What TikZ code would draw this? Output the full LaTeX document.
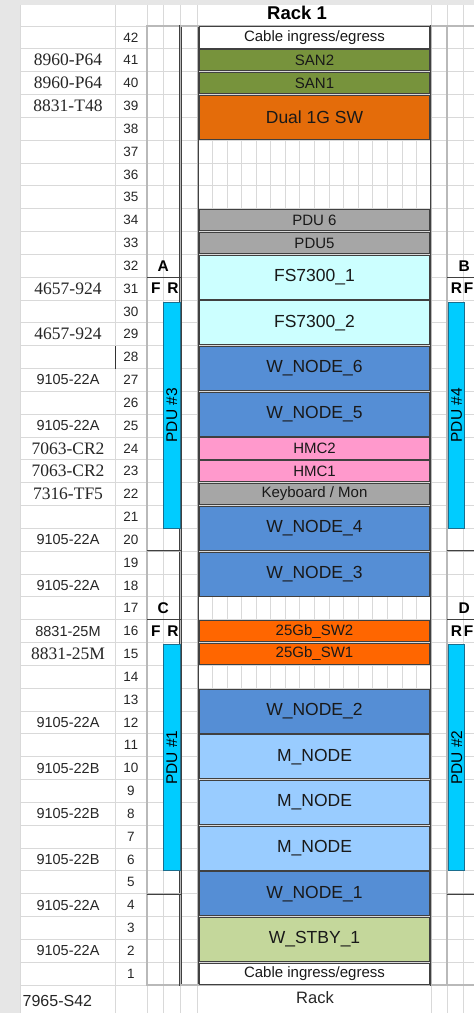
\documentclass[tikz,border=0pt]{standalone}
\usepackage{fontspec}
\setmainfont{Liberation Sans}
\newfontfamily\mtserif{Liberation Serif}
\usepackage{xcolor}
\usepackage{tikz}
\definecolor{sangreen}{HTML}{77933C}
\definecolor{swdark}{HTML}{E46C0A}
\definecolor{swbright}{HTML}{FF6600}
\definecolor{pdugray}{HTML}{A6A6A6}
\definecolor{fscyan}{HTML}{CCFFFF}
\definecolor{wblue}{HTML}{558ED5}
\definecolor{mblue}{HTML}{99CCFF}
\definecolor{hmcpink}{HTML}{FF99CC}
\definecolor{stbygreen}{HTML}{C4D79B}
\definecolor{barcyan}{HTML}{00CCFF}
\definecolor{bardark}{HTML}{1A6E8E}
\definecolor{cellgrid}{HTML}{D9D9D9}
\definecolor{margin}{HTML}{E6E6E6}

\begin{document}
\begin{tikzpicture}[x=1pt,y=22.833pt,
    frame/.style={draw=black!75, line width=0.45pt, double=gray!55, double distance=1.3pt},
    cell/.style={draw=cellgrid, line width=0.9pt},
    dev/.style={draw=black!75, line width=0.8pt, minimum width=230.5pt, inner sep=0pt,
      text=black!90, font=\fontsize{15}{17}\selectfont},
    oneu/.style={dev, minimum height=21.2pt},
    twou/.style={dev, minimum height=44pt, font=\fontsize{17.5}{19}\selectfont},
    pdubar/.style={draw=bardark, fill=barcyan, line width=1pt, rotate=90, inner sep=0pt,
      minimum width=226pt, minimum height=16.5pt, font=\fontsize{15.5}{17}\selectfont},
    unum/.style={font=\fontsize{13.5}{15}\selectfont, text=black!85},
    mtsans/.style={font=\fontsize{14.5}{16}\selectfont, text=black!85},
    mtold/.style={font=\mtserif\fontsize{17.5}{19}\selectfont, text=black!85},
    side/.style={font=\bfseries\fontsize{15.5}{17}\selectfont}]
  \clip (0,-1.226) rectangle (474,43.14);
  % sheet and cell grid
  \fill[margin] (0,-1.226) rectangle (474,43.14);
  \fill[white] (20,-1.226) rectangle (474,42.92);
  \foreach \r in {0,...,42} \draw[cell] (20,\r) -- (474,\r);
  \foreach \x in {20,115,147,163,180.5,197.8,431.2,447,463} \draw[cell] (\x,-1.226) -- (\x,42.92);
  \foreach \k in {1,...,15} \draw[cell] ({197.8+14.59*\k},0) -- ({197.8+14.59*\k},42);
  \draw[black!80, line width=0.8pt] (115,27) -- (115,28);

  % rack frame and PDU panels
  \draw[frame] (147,0) rectangle (180.5,42);
  \draw[frame] (180.5,0) rectangle (197.8,42);
  \draw[frame] (197.8,0) rectangle (431.2,42);
  \draw[frame] (431.2,0) rectangle (447,42);
  \draw[frame] (447,0) rectangle (490,42);
  \foreach \u in {4,19} {
    \draw[frame] (147,\u) -- (180.5,\u);
    \draw[frame] (447,\u) -- (490,\u);
  }
  \foreach \u in {16,31} {
    \draw[black!75, line width=0.8pt] (147,\u) -- (180.5,\u);
    \draw[black!75, line width=0.8pt] (447,\u) -- (490,\u);
  }
  \node[side] (pa) at (163.2,31.5) {A};
  \node[side] (pb) at (464.3,31.5) {B};
  \node[side] (pc) at (163.2,16.5) {C};
  \node[side] (pd) at (464.3,16.5) {D};
  \node[side] (fa) at (155.8,30.5) {F};
  \node[side] (ra) at (173,30.5) {R};
  \node[side] (rb) at (456.5,30.5) {R};
  \node[side] (fb) at (468.6,30.5) {F};
  \node[side] (fc) at (155.8,15.5) {F};
  \node[side] (rc) at (173,15.5) {R};
  \node[side] (rd) at (456.5,15.5) {R};
  \node[side] (fd) at (468.6,15.5) {F};
  \node[pdubar] (pdu3) at (171.8,24.95) {PDU \#3};
  \node[pdubar] (pdu4) at (456.7,24.95) {PDU \#4};
  \node[pdubar] (pdu1) at (171.8,9.95) {PDU \#1};
  \node[pdubar] (pdu2) at (456.7,9.95) {PDU \#2};

  % devices
  \node[oneu, fill=white] (cabtop) at (314.5,41.5) {Cable ingress/egress};
  \node[oneu, fill=sangreen] (san2) at (314.5,40.5) {SAN2};
  \node[oneu, fill=sangreen] (san1) at (314.5,39.5) {SAN1};
  \node[twou, fill=swdark] (gsw) at (314.5,38) {Dual 1G SW};
  \node[oneu, fill=pdugray] (pdu6) at (314.5,33.5) {PDU 6};
  \node[oneu, fill=pdugray] (pdu5) at (314.5,32.5) {PDU5};
  \node[twou, fill=fscyan] (fs1) at (314.5,31) {FS7300\_1};
  \node[twou, fill=fscyan] (fs2) at (314.5,29) {FS7300\_2};
  \node[twou, fill=wblue] (w6) at (314.5,27) {W\_NODE\_6};
  \node[twou, fill=wblue] (w5) at (314.5,25) {W\_NODE\_5};
  \node[oneu, fill=hmcpink] (hmc2) at (314.5,23.5) {HMC2};
  \node[oneu, fill=hmcpink] (hmc1) at (314.5,22.5) {HMC1};
  \node[oneu, fill=pdugray] (kvm) at (314.5,21.5) {Keyboard / Mon};
  \node[twou, fill=wblue] (w4) at (314.5,20) {W\_NODE\_4};
  \node[twou, fill=wblue] (w3) at (314.5,18) {W\_NODE\_3};
  \node[oneu, fill=swbright] (sw2) at (314.5,15.5) {25Gb\_SW2};
  \node[oneu, fill=swbright] (sw1) at (314.5,14.5) {25Gb\_SW1};
  \node[twou, fill=wblue] (w2) at (314.5,12) {W\_NODE\_2};
  \node[twou, fill=mblue] (m3) at (314.5,10) {M\_NODE};
  \node[twou, fill=mblue] (m2) at (314.5,8) {M\_NODE};
  \node[twou, fill=mblue] (m1) at (314.5,6) {M\_NODE};
  \node[twou, fill=wblue] (w1) at (314.5,4) {W\_NODE\_1};
  \node[twou, fill=stbygreen] (stby) at (314.5,2) {W\_STBY\_1};
  \node[oneu, fill=white] (cabbot) at (314.5,0.5) {Cable ingress/egress};

  % unit numbers and machine types
  \foreach \r in {1,...,42} \node[unum] (u\r) at (131,{\r-0.5}) {\r};
  \foreach \r/\t in {41/8960-P64,40/8960-P64,39/8831-T48,31/4657-924,29/4657-924,
      24/7063-CR2,23/7063-CR2,22/7316-TF5,15/8831-25M}
    \node[mtold] (mt\r) at (68,{\r-0.5}) {\t};
  \foreach \r/\t in {27/9105-22A,25/9105-22A,20/9105-22A,18/9105-22A,16/8831-25M,
      12/9105-22A,10/9105-22B,8/9105-22B,6/9105-22B,4/9105-22A,2/9105-22A}
    \node[mtsans] (mt\r) at (68,{\r-0.5}) {\t};

  % titles
  \node[font=\bfseries\fontsize{18.5}{20}\selectfont] (title) at (297,42.57) {Rack 1};
  \node[font=\fontsize{16.5}{18}\selectfont, text=black!85] (rackname) at (315,-0.57) {Rack};
  \node[anchor=west, inner sep=0pt, font=\fontsize{16}{18}\selectfont, text=black!85] (rackmt) at (22.5,-0.7) {7965-S42};
\end{tikzpicture}
\end{document}
